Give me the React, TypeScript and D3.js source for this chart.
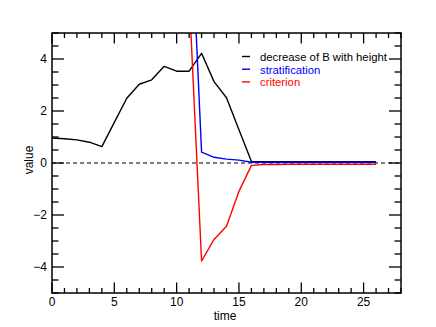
import React from 'react';
import * as d3 from 'd3';

// time steps
const timeB = [0, 1, 2, 3, 4, 5, 6, 7, 8, 9, 10, 11, 12, 13, 14, 15, 16, 17, 18, 19, 20, 21, 22, 23, 24, 25, 26];
const decreaseB = [0.96, 0.93, 0.89, 0.8, 0.63, 1.56, 2.49, 3.03, 3.2, 3.72, 3.53, 3.53, 4.22, 3.13, 2.51, 1.28, 0.06, 0.05, 0.05, 0.05, 0.05, 0.05, 0.05, 0.05, 0.05, 0.05, 0.05];

const timeS = [11, 12, 13, 14, 15, 16, 17, 18, 19, 20, 21, 22, 23, 24, 25, 26];
const stratification = [11.0, 0.42, 0.22, 0.15, 0.11, 0.03, 0.03, 0.03, 0.03, 0.03, 0.03, 0.03, 0.03, 0.03, 0.03, 0.03];
const criterion = [6.5, -3.77, -2.94, -2.43, -1.09, -0.09, -0.06, -0.06, -0.05, -0.05, -0.05, -0.05, -0.05, -0.05, -0.05, -0.05];

const xTicks = [0, 5, 10, 15, 20, 25];
const yTicks = [-4, -2, 0, 2, 4];
const legendLabels = ['decrease of B with height', 'stratification', 'criterion'];
const legendColors = ['#000000', '#0000ff', '#ff0000'];

const W = 436;
const H = 327;
const left = 52;
const right = 401;
const top = 33;
const bottom = 293;

const App = () => {
  const x = d3.scaleLinear().domain([0, 28]).range([left, right]);
  const y = d3.scaleLinear().domain([-5, 5]).range([bottom, top]);

  const line = d3.line<[number, number]>()
    .x(d => x(d[0]))
    .y(d => y(d[1]));

  const series = [
    { xs: timeB, ys: decreaseB, color: legendColors[0] },
    { xs: timeS, ys: stratification, color: legendColors[1] },
    { xs: timeS, ys: criterion, color: legendColors[2] },
  ];

  const xMinor = d3.range(0, 29, 1);
  const yMinor = d3.range(-5, 5.01, 0.5);
  const font = 'Liberation Sans, Arial, sans-serif';

  return (
    <svg width={W} height={H} style={{ position: 'absolute', left: 0, top: 0 }} fontFamily={font}>
      <rect width={W} height={H} fill="#fff" />
      <defs>
        <clipPath id="plot">
          <rect x={left} y={top} width={right - left} height={bottom - top} />
        </clipPath>
      </defs>

      {/* zero line */}
      <line x1={left} x2={right} y1={y(0)} y2={y(0)} stroke="#000" strokeWidth={1} strokeDasharray="4,3" />

      <g clipPath="url(#plot)">
        {series.map((s, i) => (
          <path
            key={i}
            d={line(s.xs.map((t, j) => [t, s.ys[j]] as [number, number])) || ''}
            fill="none"
            stroke={s.color}
            strokeWidth={1.4}
            strokeLinejoin="round"
          />
        ))}
      </g>

      {/* frame */}
      <rect x={left} y={top} width={right - left} height={bottom - top} fill="none" stroke="#000" strokeWidth={1.5} />

      {/* x ticks, bottom and top */}
      {xMinor.map(v => {
        const len = v % 5 === 0 ? 10.5 : 5;
        return (
          <g key={'x' + v} stroke="#000" strokeWidth={1.3}>
            <line x1={x(v)} x2={x(v)} y1={bottom} y2={bottom - len} />
            <line x1={x(v)} x2={x(v)} y1={top} y2={top + len} />
          </g>
        );
      })}
      {/* y ticks, left and right */}
      {yMinor.map(v => {
        const len = Math.abs(v % 2) < 1e-6 ? 12 : 6.5;
        return (
          <g key={'y' + v} stroke="#000" strokeWidth={1.3}>
            <line x1={left} x2={left + len} y1={y(v)} y2={y(v)} />
            <line x1={right} x2={right - len} y1={y(v)} y2={y(v)} />
          </g>
        );
      })}

      {xTicks.map(v => (
        <text key={'xl' + v} x={x(v)} y={306} textAnchor="middle" fontSize={12} fill="#000">{v}</text>
      ))}
      {yTicks.map(v => (
        <text key={'yl' + v} x={47} y={y(v) + 4.3} textAnchor="end" fontSize={12} fill="#000">
          {v < 0 ? '\u2212' + Math.abs(v) : v}
        </text>
      ))}

      <text x={225} y={320} textAnchor="middle" fontSize={12} fill="#000">time</text>
      <text transform={`translate(33,160) rotate(-90)`} textAnchor="middle" fontSize={12} fill="#000">value</text>

      {/* legend */}
      {legendLabels.map((lab, i) => (
        <g key={lab}>
          <line x1={242} x2={250} y1={56.5 + i * 12.7} y2={56.5 + i * 12.7} stroke={legendColors[i]} strokeWidth={1.4} />
          <text x={260} y={60.8 + i * 12.7} fontSize={11.3} fill={legendColors[i]}>{lab}</text>
        </g>
      ))}
    </svg>
  );
};

export default App;
